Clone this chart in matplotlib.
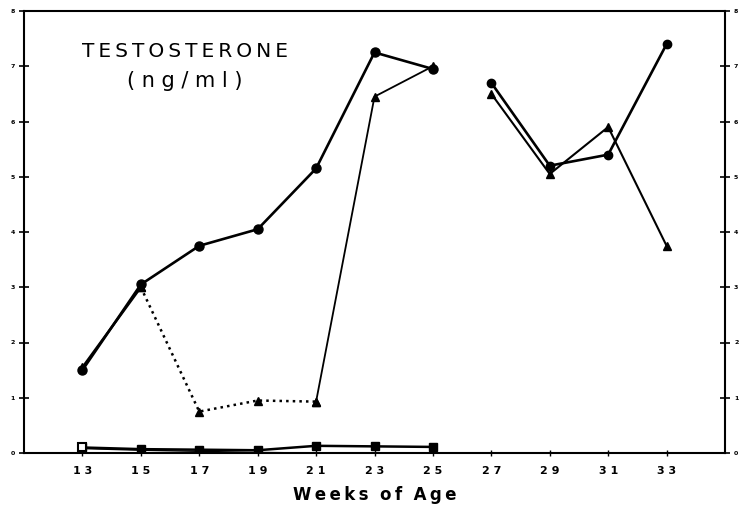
import matplotlib
matplotlib.use("Agg")
import matplotlib.pyplot as plt

weeks_a = [13, 15, 17, 19, 21, 23, 25]
weeks_b = [27, 29, 31, 33]

circle_a = [1.50, 3.05, 3.75, 4.05, 5.15, 7.25, 6.95]
circle_b = [6.70, 5.20, 5.40, 7.40]

tri_a = [1.55, 3.00, 0.75, 0.95, 0.93, 6.45, 7.00]
tri_b = [6.50, 5.05, 5.90, 3.75]

square_a = [0.10, 0.07, 0.06, 0.05, 0.13, 0.12, 0.11]
square_low = [0.08, 0.05, 0.03, 0.01, 0.00, 0.00, 0.00]

xticks = [13, 15, 17, 19, 21, 23, 25, 27, 29, 31, 33]
yticks = [0, 1, 2, 3, 4, 5, 6, 7, 8]

TS = '\u2009'


def spaced(s, sep=TS):
    return sep.join(s)


fig = plt.figure(figsize=(7.39, 5.07), dpi=100)
ax = fig.add_axes([24 / 739, 1 - 453 / 507, 701 / 739, 442 / 507])

k = 'black'
# circles
ax.plot(weeks_a, circle_a, '-', color=k, lw=1.9, marker='o', ms=6.5, zorder=3)
ax.plot(weeks_b, circle_b, '-', color=k, lw=1.9, marker='o', ms=6, zorder=3)

# triangles: solid 13-15, dotted 15-21, solid 21-25
ax.plot(weeks_a[0:2], tri_a[0:2], '-', color=k, lw=1.8, marker='^', ms=6, zorder=3)
ax.plot(weeks_a[1:5], tri_a[1:5], ':', color=k, lw=1.8, marker='^', ms=6, zorder=3)
ax.plot(weeks_a[4:7], tri_a[4:7], '-', color=k, lw=1.3, marker='^', ms=6, zorder=3)
ax.plot(weeks_b, tri_b, '-', color=k, lw=1.5, marker='^', ms=6, zorder=3)

# squares near zero
ax.plot(weeks_a, square_low, '-', color=k, lw=1.0, zorder=2)
ax.plot(weeks_a, square_a, '-', color=k, lw=1.8, marker='s', ms=5.5, zorder=3)
ax.plot(weeks_a[0:1], square_a[0:1], 's', mfc='white', mec=k, mew=1.5, ms=5.5, zorder=4)

ax.set_xlim(11, 35)
ax.set_ylim(0, 8)
ax.set_xticks(xticks)
ax.set_xticklabels([' '.join(str(t)) for t in xticks], fontsize=8, fontweight='bold')
ax.set_yticks(yticks)
ax.set_yticklabels([str(t) for t in yticks], fontsize=4.5, fontweight='bold')
ax.tick_params(axis='y', direction='inout', length=7, width=1.2, left=True, right=True,
               labelleft=True, labelright=True, pad=3)
ax.tick_params(axis='x', direction='inout', length=5, width=1.0, pad=7)
for s in ax.spines.values():
    s.set_linewidth(1.5)

ax.set_xlabel(spaced('Weeks') + '  ' + spaced('of') + '  ' + spaced('Age'),
              fontsize=12, fontweight='bold', labelpad=7)

ax.text(0.2297, 0.93, spaced('TESTOSTERONE'), transform=ax.transAxes, ha='center', va='top',
        fontsize=14.5)
ax.text(0.2297, 0.865, spaced('(ng/ml)', ' '), transform=ax.transAxes, ha='center', va='top',
        fontsize=15)

fig.savefig('out.png', dpi=100)
